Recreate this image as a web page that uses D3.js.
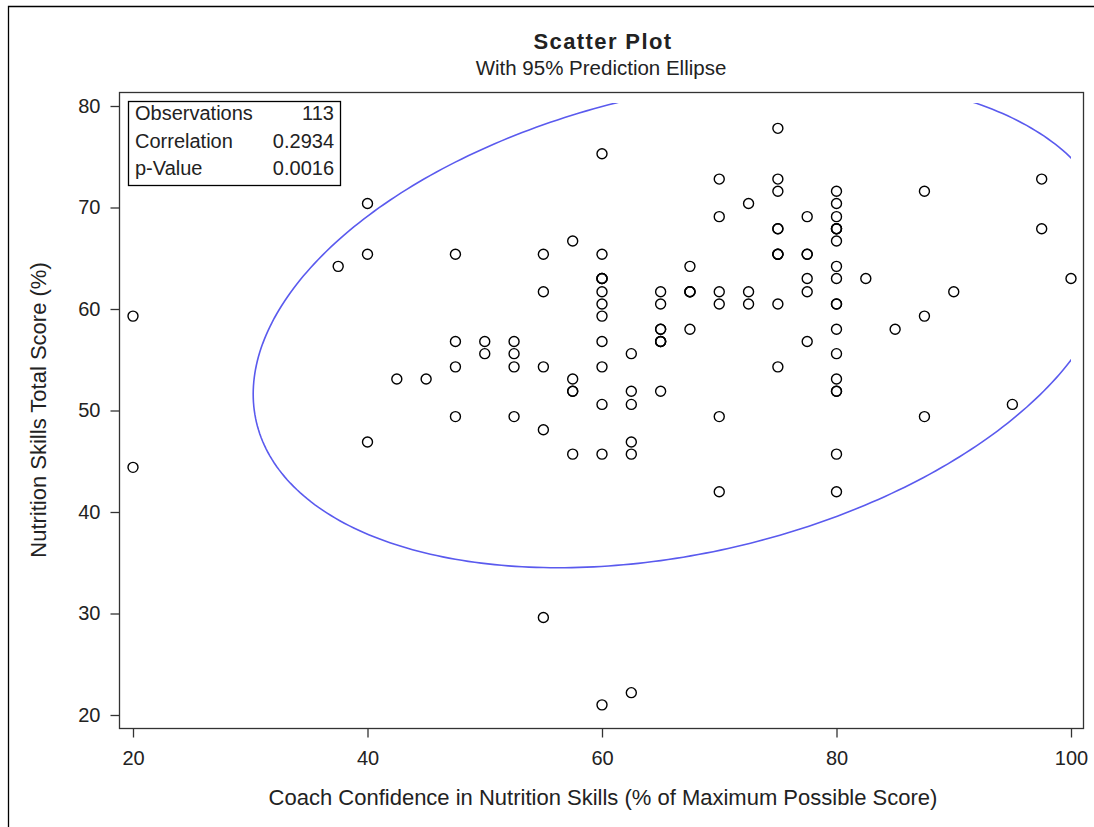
<!DOCTYPE html>
<html>
<head>
<meta charset="utf-8">
<script src="https://cdn.jsdelivr.net/npm/d3@7"></script>
<style>
  body { margin: 0; background: #fff; }
  text { font-family: "Liberation Sans", Arial, sans-serif; fill: #222; }
</style>
</head>
<body>
<svg id="chart" width="1094" height="827"></svg>
<script>
// coach confidence (% of max) -> nutrition skills total score (%)
// overlapping duplicates are listed more than once
const confidence = [
  20, 20,
  37.5,
  40, 40, 40,
  42.5, 45,
  47.5, 47.5, 47.5, 47.5,
  50, 50,
  52.5, 52.5, 52.5, 52.5,
  55, 55, 55, 55, 55,
  57.5, 57.5, 57.5, 57.5, 57.5,
  60, 60, 60, 60, 60, 60, 60, 60, 60, 60, 60, 60, 60,
  62.5, 62.5, 62.5, 62.5, 62.5, 62.5,
  65, 65, 65, 65, 65, 65, 65, 65,
  67.5, 67.5, 67.5, 67.5, 67.5,
  70, 70, 70, 70, 70, 70,
  72.5, 72.5, 72.5,
  75, 75, 75, 75, 75, 75, 75, 75, 75, 75,
  77.5, 77.5, 77.5, 77.5, 77.5, 77.5,
  80, 80, 80, 80, 80, 80, 80, 80, 80, 80, 80, 80, 80, 80, 80, 80, 80, 80,
  82.5, 85,
  87.5, 87.5, 87.5,
  90, 95,
  97.5, 97.5,
  100
];
const skillScore = [
  59.3, 44.4,
  64.2,
  70.4, 65.4, 46.9,
  53.1, 53.1,
  65.4, 56.8, 54.3, 49.4,
  56.8, 55.6,
  56.8, 55.6, 54.3, 49.4,
  65.4, 61.7, 54.3, 48.1, 29.6,
  66.7, 53.1, 51.9, 51.9, 45.7,
  75.3, 65.4, 63.0, 63.0, 63.0, 61.7, 60.5, 59.3, 56.8, 54.3, 50.6, 45.7, 21.0,
  55.6, 51.9, 50.6, 46.9, 45.7, 22.2,
  61.7, 60.5, 58.0, 58.0, 56.8, 56.8, 56.8, 51.9,
  64.2, 61.7, 61.7, 61.7, 58.0,
  72.8, 69.1, 61.7, 60.5, 49.4, 42.0,
  70.4, 61.7, 60.5,
  77.8, 72.8, 71.6, 67.9, 67.9, 65.4, 65.4, 65.4, 60.5, 54.3,
  69.1, 65.4, 65.4, 63.0, 61.7, 56.8,
  71.6, 70.4, 69.1, 67.9, 67.9, 67.9, 66.7, 64.2, 63.0, 60.5, 60.5, 58.0, 55.6, 53.1, 51.9, 51.9, 45.7, 42.0,
  63.0, 58.0,
  71.6, 59.3, 49.4,
  61.7, 50.6,
  72.8, 67.9,
  63.0
];
const xTicks = [20, 40, 60, 80, 100];
const yTicks = [20, 30, 40, 50, 60, 70, 80];
const statLabels = ["Observations", "Correlation", "p-Value"];
const statValues = ["113", "0.2934", "0.0016"];

const svg = d3.select("#chart");
const plot = { left: 119, top: 92, right: 1083, bottom: 728 };

// page frame (only left/top visible in the capture)
svg.append("path")
  .attr("d", "M8.5,830 V6.5 H1100")
  .attr("fill", "none").attr("stroke", "#000").attr("stroke-width", 1.3);

const x = d3.scaleLinear().domain([20, 100]).range([133, 1071]);
const y = d3.scaleLinear().domain([20, 80]).range([715, 106]);

const points = confidence.map((c, i) => ({ x: c, y: skillScore[i] }));

// 95% prediction ellipse from sample mean & covariance
const n = points.length;
const mx = d3.mean(points, d => d.x), my = d3.mean(points, d => d.y);
let sxx = 0, syy = 0, sxy = 0;
points.forEach(d => {
  sxx += (d.x - mx) ** 2; syy += (d.y - my) ** 2; sxy += (d.x - mx) * (d.y - my);
});
sxx /= n - 1; syy /= n - 1; sxy /= n - 1;
const m = n - 2;
const fq = (m / 2) * (Math.pow(0.05, -2 / m) - 1); // F(0.95; 2, n-2)
const c = Math.sqrt(2 * (n + 1) * (n - 1) / (n * m) * fq);
const l11 = Math.sqrt(sxx), l21 = sxy / l11, l22 = Math.sqrt(syy - l21 * l21);
const ell = d3.range(0, 361).map(k => {
  const t = k * Math.PI / 180;
  const u = Math.cos(t), v = Math.sin(t);
  return [mx + c * l11 * u, my + c * (l21 * u + l22 * v)];
});

// ellipse is clipped to the data area
svg.append("clipPath").attr("id", "clip")
  .append("rect")
  .attr("x", plot.left).attr("y", y(80.3))
  .attr("width", x(100) - plot.left).attr("height", plot.bottom - y(80.3));

svg.append("path")
  .datum(ell)
  .attr("clip-path", "url(#clip)")
  .attr("fill", "none")
  .attr("stroke", "#5a5aee")
  .attr("stroke-width", 1.6)
  .attr("d", d3.line().x(d => x(d[0])).y(d => y(d[1])));

svg.append("g")
  .selectAll("circle")
  .data(points)
  .join("circle")
  .attr("cx", d => x(d.x))
  .attr("cy", d => y(d.y))
  .attr("r", 5)
  .attr("fill", "none")
  .attr("stroke", "#000")
  .attr("stroke-width", 1.4);

// plot frame
svg.append("rect")
  .attr("x", plot.left + 0.5).attr("y", plot.top + 0.5)
  .attr("width", plot.right - plot.left).attr("height", plot.bottom - plot.top)
  .attr("fill", "none").attr("stroke", "#333").attr("stroke-width", 1.3);

// axes
const xAxis = svg.append("g")
  .attr("transform", `translate(0,${plot.bottom + 0.5})`)
  .call(d3.axisBottom(x).tickValues(xTicks).tickSize(9).tickPadding(13));
const yAxis = svg.append("g")
  .attr("transform", `translate(${plot.left + 0.5},0)`)
  .call(d3.axisLeft(y).tickValues(yTicks).tickSize(9).tickPadding(10));
[xAxis, yAxis].forEach(g => {
  g.select(".domain").remove();
  g.selectAll(".tick line").attr("stroke", "#333").attr("stroke-width", 1.3);
  g.selectAll(".tick text").attr("font-size", 20).attr("fill", "#222")
    .attr("font-family", "Liberation Sans, Arial, sans-serif");
});

// titles
svg.append("text")
  .attr("x", 603).attr("y", 49)
  .attr("text-anchor", "middle")
  .attr("font-size", 22).attr("font-weight", "bold")
  .attr("letter-spacing", 1.4)
  .text("Scatter Plot");
svg.append("text")
  .attr("x", 601).attr("y", 75)
  .attr("text-anchor", "middle")
  .attr("font-size", 20.5)
  .text("With 95% Prediction Ellipse");

svg.append("text")
  .attr("x", 603).attr("y", 805)
  .attr("text-anchor", "middle")
  .attr("font-size", 22)
  .text("Coach Confidence in Nutrition Skills (% of Maximum Possible Score)");
svg.append("text")
  .attr("transform", "translate(46,410) rotate(-90)")
  .attr("text-anchor", "middle")
  .attr("font-size", 22)
  .text("Nutrition Skills Total Score (%)");

// stats inset
const box = svg.append("g");
box.append("rect")
  .attr("x", 128.5).attr("y", 101.5).attr("width", 212).attr("height", 84)
  .attr("fill", "#fff").attr("stroke", "#000").attr("stroke-width", 1.3);
statLabels.forEach((s, i) => {
  box.append("text").attr("x", 135).attr("y", 120 + i * 27.5)
    .attr("font-size", 20).text(s);
  box.append("text").attr("x", 334).attr("y", 120 + i * 27.5)
    .attr("text-anchor", "end").attr("font-size", 20).text(statValues[i]);
});
</script>
</body>
</html>
